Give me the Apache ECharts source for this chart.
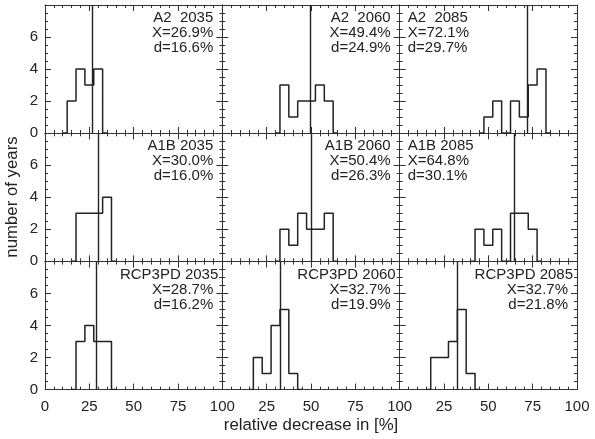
<!DOCTYPE html>
<html>
<head>
<meta charset="utf-8">
<script src="https://cdn.jsdelivr.net/npm/echarts@6/dist/echarts.min.js"></script>
<style>html,body{margin:0;padding:0;background:#fff;}#chart{width:595px;height:439px;}</style>
</head>
<body>
<div id="chart"></div>
<script>
// ---- data ----
const scenarios = ['A2', 'A1B', 'RCP3PD'];
const years = [2035, 2060, 2085];
const meanX = [[26.9, 49.4, 72.1], [30.0, 50.4, 64.8], [28.7, 32.7, 32.7]];
const spreadD = [[16.6, 24.9, 29.7], [16.0, 26.3, 30.1], [16.2, 19.9, 21.8]];
const binWidth = 5;
const firstBinCenter = [[15, 35, 50], [20, 35, 45], [20, 20, 20]];
const counts = [
  [[2, 4, 3, 4], [3, 1, 2, 2, 3, 2], [1, 2, 0, 2, 1, 3, 4]],
  [[3, 3, 3, 4], [2, 1, 3, 2, 2, 3], [2, 1, 2, 0, 3, 3, 2]],
  [[3, 4, 3, 3], [2, 1, 4, 5, 1], [2, 2, 3, 5, 1]]
];
const xTickLabels = [0, 25, 50, 75, 100];
const yTickLabels = [0, 2, 4, 6];
const xTitle = 'relative decrease in [%]';
const yTitle = 'number of years';

// ---- layout ----
const colEdges = [45, 222.3, 399.7, 577];
const rowTops = [5, 133.3, 261.6];
const rowH = 128;
const FONT = '"Liberation Sans", Arial, sans-serif';
const LINE = '#333';

const grids = [], xAxes = [], yAxes = [], series = [], graphics = [];
function tickCfg() {
  return {
    axisLine: { show: true, onZero: false, lineStyle: { color: LINE, width: 1 } },
    axisTick: { show: true, inside: true, length: 6, lineStyle: { color: LINE, width: 1 } },
    minorTick: { show: true, length: 3, lineStyle: { color: LINE, width: 1 } },
    splitLine: { show: false }
  };
}
for (let r = 0; r < 3; r++) {
  for (let c = 0; c < 3; c++) {
    const g = r * 3 + c;
    const left = colEdges[c], width = colEdges[c + 1] - colEdges[c];
    const top = rowTops[r];
    grids.push({ left: left, top: top, width: width, height: rowH });
    const showX = r === 2;
    const firstCol = c === 0;
    xAxes.push(Object.assign(tickCfg(), {
      type: 'value', gridIndex: g, position: 'bottom', min: 0, max: 100, interval: 25,
      minorTick: { show: true, splitNumber: 5, length: 3, lineStyle: { color: LINE, width: 1 } },
      axisLabel: {
        show: showX, margin: 10, fontFamily: FONT, fontSize: 15, color: '#222',
        formatter: v => (xTickLabels.indexOf(v) < 0 || (v === 0 && !firstCol)) ? '' : String(v)
      }
    }));
    xAxes.push(Object.assign(tickCfg(), {
      type: 'value', gridIndex: g, position: 'top', min: 0, max: 100, interval: 25,
      minorTick: { show: true, splitNumber: 5, length: 3, lineStyle: { color: LINE, width: 1 } },
      axisLabel: { show: false }
    }));
    yAxes.push(Object.assign(tickCfg(), {
      type: 'value', gridIndex: g, position: 'left', min: 0, max: 8, interval: 2,
      minorTick: { show: true, splitNumber: 4, length: 3, lineStyle: { color: LINE, width: 1 } },
      axisLabel: {
        show: firstCol, margin: 7, fontFamily: FONT, fontSize: 15, color: '#222',
        formatter: v => yTickLabels.indexOf(v) < 0 ? '' : String(v)
      }
    }));
    yAxes.push(Object.assign(tickCfg(), {
      type: 'value', gridIndex: g, position: 'right', min: 0, max: 8, interval: 2,
      minorTick: { show: true, splitNumber: 4, length: 3, lineStyle: { color: LINE, width: 1 } },
      axisLabel: { show: false }
    }));

    // histogram outline
    const cnt = counts[r][c];
    const start = firstBinCenter[r][c];
    const pts = [[start - binWidth, 0]];
    cnt.forEach((v, i) => pts.push([start + i * binWidth, v]));
    pts.push([start + cnt.length * binWidth, 0]);
    series.push({
      type: 'line', step: 'middle', xAxisIndex: 2 * g, yAxisIndex: 2 * g,
      data: pts, showSymbol: false, symbol: 'none', silent: true, animation: false,
      lineStyle: { color: '#222', width: 1.5 },
      markLine: {
        silent: true, symbol: 'none', animation: false,
        label: { show: false },
        lineStyle: { color: '#222', width: 1.4, type: 'solid' },
        data: [{ xAxis: meanX[r][c] }]
      }
    });

    // annotation
    const nameStr = scenarios[r].padEnd(3, ' ') + ' ' + years[c];
    const xStr = 'X=' + meanX[r][c].toFixed(1) + '%';
    const dStr = 'd=' + spreadD[r][c].toFixed(1) + '%';
    const leftAligned = (c === 2 && r < 2);
    const tx = leftAligned ? left + 8 : left + width - 9;
    const align = leftAligned ? 'left' : 'right';
    const lines = [nameStr, xStr, dStr];
    lines.forEach((s, i) => {
      let xx = tx;
      if (i === 0 && r === 2) xx = left + width - 4;
      graphics.push({
        type: 'text', x: xx, y: top + 13 + i * 15, silent: true,
        style: { text: s, font: '15px ' + FONT, fill: '#222', textAlign: align, textVerticalAlign: 'middle' }
      });
    });
  }
}
graphics.push({
  type: 'text', x: (colEdges[0] + colEdges[3]) / 2, y: 425, silent: true,
  style: { text: xTitle, font: '16.8px ' + FONT, fill: '#222', textAlign: 'center', textVerticalAlign: 'middle' }
});
graphics.push({
  type: 'text', x: 12, y: 197, rotation: Math.PI / 2, silent: true,
  style: { text: yTitle, font: '16.8px ' + FONT, fill: '#222', textAlign: 'center', textVerticalAlign: 'middle' }
});

const chart = echarts.init(document.getElementById('chart'), null, { renderer: 'canvas' });
chart.setOption({
  animation: false,
  backgroundColor: '#fff',
  grid: grids, xAxis: xAxes, yAxis: yAxes, series: series, graphic: graphics
});
</script>
</body>
</html>
